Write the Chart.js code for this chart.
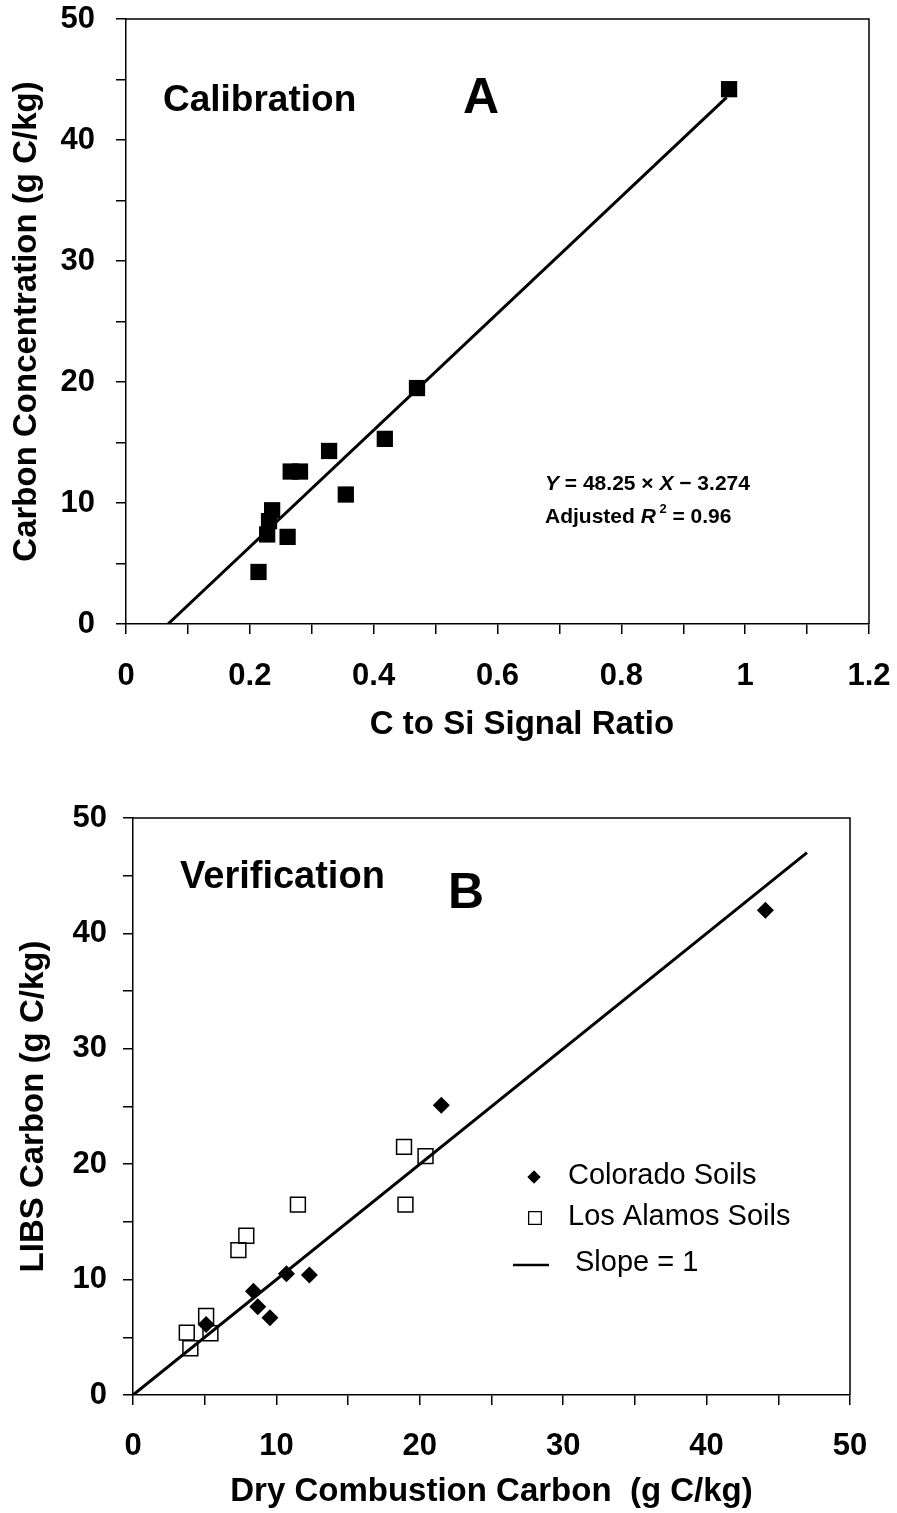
<!DOCTYPE html>
<html>
<head>
<meta charset="utf-8">
<script src="https://cdn.jsdelivr.net/npm/chart.js@4.4.1/dist/chart.umd.min.js"></script>
<style>
  html, body { margin: 0; padding: 0; background: #fff; }
  #wrap { position: relative; width: 897px; height: 1513px; }
  #calBox { position: absolute; left: 0; top: 0; width: 897px; height: 760px; }
  #verBox { position: absolute; left: 0; top: 760px; width: 897px; height: 753px; }
</style>
</head>
<body>
<div id="wrap">
  <div id="calBox"><canvas id="calChart"></canvas></div>
  <div id="verBox"><canvas id="verChart"></canvas></div>
</div>
<script>
// Panel A - calibration points
const calRatio  = [0.974, 0.470, 0.418, 0.328, 0.266, 0.281, 0.355, 0.236, 0.231, 0.228, 0.261, 0.214];
const calCarbon = [44.2, 19.5, 15.3, 14.3, 12.6, 12.6, 10.7, 9.4, 8.5, 7.4, 7.2, 4.3];
// regression line Y = 48.25 X - 3.274, drawn between these ratios
const fitSlope = 48.25;
const fitIntercept = -3.274;
const fitRange = [0.0679, 0.97];

// Panel B - verification points
const coloradoDry  = [44.1, 21.5, 10.7, 12.3, 8.4, 8.7, 9.55, 5.1];
const coloradoLibs = [42.0, 25.1, 10.5, 10.4, 9.0, 7.65, 6.7, 6.1];
const alamosDry  = [18.9, 20.4, 19.0, 11.5, 7.9, 7.35, 5.1, 5.4, 3.75, 4.0];
const alamosLibs = [21.5, 20.7, 16.5, 16.5, 13.8, 12.55, 6.85, 5.35, 5.4, 4.05];
const slopeLine = [0, 47];

const FONT = "'Liberation Sans', Arial, sans-serif";
Chart.defaults.font.family = FONT;
Chart.defaults.color = '#000';

function toPoints(xs, ys) {
  return xs.map((x, i) => ({ x: x, y: ys[i] }));
}

function drawRuns(ctx, x, y, runs) {
  runs.forEach(r => {
    ctx.font = r.font;
    ctx.fillText(r.text, x, y - (r.rise || 0));
    x += ctx.measureText(r.text).width;
  });
}

// top and right frame lines
const framePlugin = {
  id: 'frame',
  afterDraw(chart) {
    const { ctx, chartArea: a } = chart;
    ctx.save();
    ctx.strokeStyle = '#000';
    ctx.lineWidth = 1.5;
    ctx.beginPath();
    ctx.moveTo(a.left, a.top);
    ctx.lineTo(a.right, a.top);
    ctx.lineTo(a.right, a.bottom);
    ctx.stroke();
    ctx.restore();
  }
};

function axis(min, max, step, label, opts) {
  return {
    type: 'linear',
    min: min,
    max: max,
    ticks: {
      stepSize: step,
      autoSkip: false,
      maxRotation: 0,
      padding: opts.tickPad,
      font: { size: 31, weight: 'bold' },
      callback: opts.callback
    },
    grid: { drawOnChartArea: false, drawTicks: true, tickLength: 10, color: '#000', lineWidth: 1.5 },
    border: { color: '#000', width: 1.5 },
    title: {
      display: !!label,
      text: label,
      font: { size: 33, weight: 'bold' },
      padding: opts.titlePad
    },
    afterFit: s => {
      // fixed box sizes, no extra room for overhanging labels
      if (s.isHorizontal()) {
        s.height = opts.size;
        s.paddingLeft = 0;
        s.paddingRight = 0;
      } else {
        s.width = opts.size;
        s.paddingTop = 0;
        s.paddingBottom = 0;
      }
    }
  };
}

function baseOptions(padding, scales) {
  return {
    responsive: true,
    maintainAspectRatio: false,
    animation: false,
    layout: { padding: padding },
    plugins: { legend: { display: false }, tooltip: { enabled: false } },
    scales: scales
  };
}

// ---------- Panel A ----------
new Chart(document.getElementById('calChart'), {
  type: 'scatter',
  data: {
    datasets: [
      {
        data: toPoints(calRatio, calCarbon),
        pointStyle: 'rect',
        radius: 11.5,
        backgroundColor: '#000',
        borderColor: '#000',
        borderWidth: 0
      },
      {
        type: 'line',
        data: fitRange.map(x => ({ x: x, y: fitSlope * x + fitIntercept })),
        borderColor: '#000',
        borderWidth: 3,
        pointRadius: 0,
        fill: false
      }
    ]
  },
  options: baseOptions({ top: 19, right: 28, left: 0, bottom: 0 }, {
    x: axis(0, 1.2, 0.1, '', {
      tickPad: 24,
      titlePad: { top: 0, bottom: 16 },
      callback: v => { const n = Math.round(v * 10); return n % 2 === 0 ? String(n / 10) : ''; },
      size: 136
    }),
    y: axis(0, 50, 5, 'Carbon Concentration (g C/kg)', {
      tickPad: 21,
      titlePad: { top: 7, bottom: 0 },
      callback: v => (v % 10 === 0 ? String(v) : ''),
      size: 126
    })
  }),
  plugins: [framePlugin, {
    id: 'calText',
    afterDraw(chart) {
      const ctx = chart.ctx;
      ctx.save();
      ctx.fillStyle = '#000';
      ctx.textBaseline = 'middle';
      ctx.textAlign = 'center';
      ctx.font = 'bold 33px ' + FONT;
      ctx.fillText('C to Si Signal Ratio', 522, 725);
      ctx.textAlign = 'left';
      ctx.font = 'bold 37px ' + FONT;
      ctx.fillText('Calibration', 163, 101);
      ctx.textAlign = 'center';
      ctx.font = 'bold 50px ' + FONT;
      ctx.fillText('A', 481, 99);
      ctx.textAlign = 'left';
      const b = 'bold 21px ' + FONT;
      const bi = 'italic bold 21px ' + FONT;
      drawRuns(ctx, 545, 484, [
        { text: 'Y', font: bi }, { text: ' = 48.25 \u00d7 ', font: b },
        { text: 'X', font: bi }, { text: ' \u2212 3.274', font: b }
      ]);
      drawRuns(ctx, 545, 517, [
        { text: 'Adjusted ', font: b }, { text: 'R', font: bi },
        { text: ' 2', font: 'bold 13px ' + FONT, rise: 8 }, { text: ' = 0.96', font: b }
      ]);
      ctx.restore();
    }
  }]
});

// ---------- Panel B ----------
new Chart(document.getElementById('verChart'), {
  type: 'scatter',
  data: {
    datasets: [
      {
        label: 'Colorado Soils',
        data: toPoints(coloradoDry, coloradoLibs),
        pointStyle: 'rectRot',
        radius: 8.5,
        backgroundColor: '#000',
        borderColor: '#000',
        borderWidth: 0
      },
      {
        label: 'Los Alamos Soils',
        data: toPoints(alamosDry, alamosLibs),
        pointStyle: 'rect',
        radius: 10.5,
        backgroundColor: 'rgba(0,0,0,0)',
        borderColor: '#000',
        borderWidth: 1.5
      },
      {
        label: 'Slope = 1',
        type: 'line',
        data: slopeLine.map(v => ({ x: v, y: v })),
        borderColor: '#000',
        borderWidth: 3,
        pointRadius: 0,
        fill: false
      }
    ]
  },
  options: baseOptions({ top: 58, right: 47, left: 0, bottom: 0 }, {
    x: axis(0, 50, 5, 'Dry Combustion Carbon  (g C/kg)', {
      tickPad: 23,
      titlePad: { top: 0, bottom: 1 },
      callback: v => (v % 10 === 0 ? String(v) : ''),
      size: 118
    }),
    y: axis(0, 50, 5, 'LIBS Carbon (g C/kg)', {
      tickPad: 16,
      titlePad: { top: 14, bottom: 0 },
      callback: v => (v % 10 === 0 ? String(v) : ''),
      size: 133
    })
  }),
  plugins: [framePlugin, {
    id: 'verText',
    afterDraw(chart) {
      const ctx = chart.ctx;
      ctx.save();
      ctx.fillStyle = '#000';
      ctx.strokeStyle = '#000';
      ctx.textBaseline = 'middle';
      ctx.textAlign = 'left';
      ctx.font = 'bold 38px ' + FONT;
      ctx.fillText('Verification', 180, 118);
      ctx.textAlign = 'center';
      ctx.font = 'bold 50px ' + FONT;
      ctx.fillText('B', 466, 134);

      // legend
      ctx.textAlign = 'left';
      ctx.font = '29px ' + FONT;
      Chart.helpers.drawPoint(ctx, { pointStyle: 'rectRot', radius: 6.5, borderWidth: 0 }, 534, 417);
      ctx.fill();
      ctx.fillText(chart.data.datasets[0].label, 568, 416);
      ctx.lineWidth = 1.3;
      ctx.fillStyle = 'rgba(0,0,0,0)';
      Chart.helpers.drawPoint(ctx, { pointStyle: 'rect', radius: 9, borderWidth: 1.3 }, 535, 458);
      ctx.fillStyle = '#000';
      ctx.fillText(chart.data.datasets[1].label, 568, 457);
      ctx.lineWidth = 2.5;
      ctx.beginPath();
      ctx.moveTo(513, 505);
      ctx.lineTo(549, 505);
      ctx.stroke();
      ctx.fillText(chart.data.datasets[2].label, 575, 503);
      ctx.restore();
    }
  }]
});
</script>
</body>
</html>
